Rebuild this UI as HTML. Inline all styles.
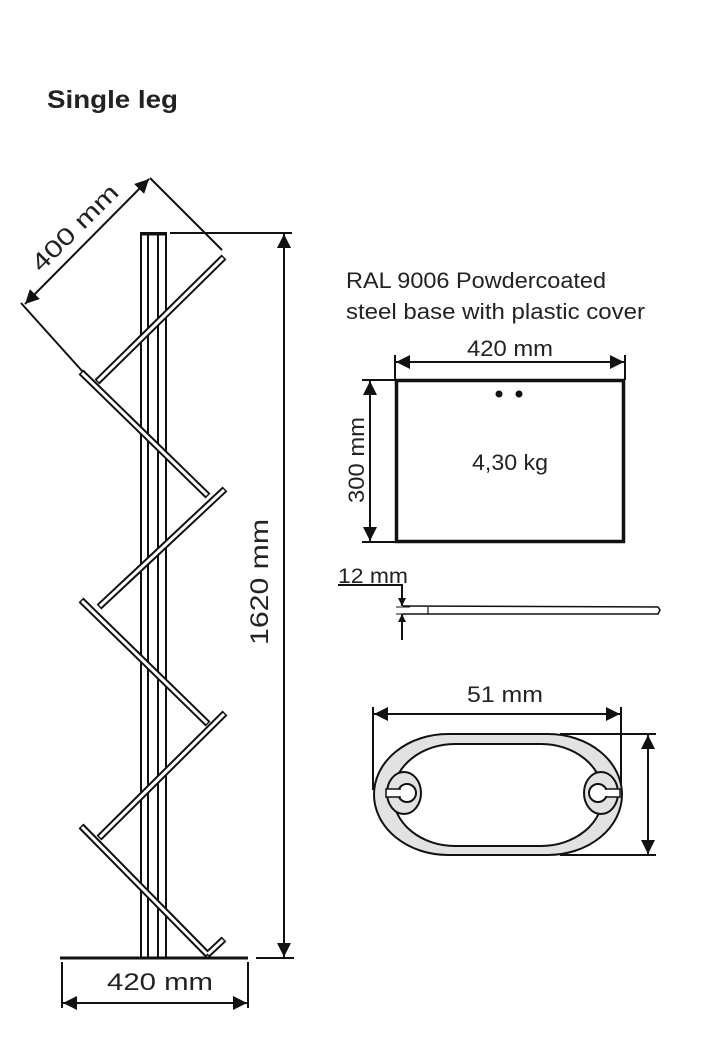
<!DOCTYPE html>
<html><head><meta charset="utf-8"><style>
html,body{margin:0;padding:0;background:#fff;}
svg{display:block;}
text{font-family:"Liberation Sans",sans-serif;fill:#222;}
</style></head><body>
<svg width="708" height="1044" viewBox="0 0 708 1044" xmlns="http://www.w3.org/2000/svg">
<defs>
<marker id="a" viewBox="0 0 10 10" refX="10" refY="5" markerWidth="8" markerHeight="8" orient="auto-start-reverse" markerUnits="userSpaceOnUse"><path d="M0,0 L10,5 L0,10 z" fill="#111"/></marker>
<marker id="b" viewBox="0 0 10 10" refX="10" refY="5" markerWidth="18" markerHeight="14" orient="auto-start-reverse" markerUnits="userSpaceOnUse"><path d="M0,0 L10,5 L0,10 z" fill="#111"/></marker>
</defs>
<text x="47" y="108" font-size="25" font-weight="bold" textLength="131" lengthAdjust="spacingAndGlyphs">Single leg</text>

<!-- pole -->
<g stroke="#111" stroke-width="2" fill="none">
<rect x="141" y="233" width="25" height="725" fill="#fff"/>
<line x1="148" y1="233" x2="148" y2="958"/>
<line x1="158" y1="233" x2="158" y2="958"/>
<line x1="141" y1="234" x2="166" y2="234" stroke-width="3"/>
</g>
<!-- shelves -->
<g stroke-linecap="butt">
<g stroke="#111" stroke-width="7">
<line x1="97" y1="382" x2="224" y2="257"/>
<line x1="81" y1="372" x2="208" y2="496"/>
<line x1="99" y1="607" x2="225" y2="489"/>
<line x1="81" y1="600" x2="208" y2="724"/>
<line x1="99" y1="838" x2="225" y2="713"/>
<line x1="81" y1="826" x2="208" y2="955"/>
<line x1="207" y1="955" x2="224" y2="939"/>
</g>
<g stroke="#fff" stroke-width="3">
<line x1="98" y1="381" x2="223" y2="258"/>
<line x1="82" y1="373" x2="207" y2="495"/>
<line x1="100" y1="606" x2="224" y2="490"/>
<line x1="82" y1="601" x2="207" y2="723"/>
<line x1="100" y1="837" x2="224" y2="714"/>
<line x1="82" y1="827" x2="207" y2="954"/>
<line x1="208" y1="954" x2="223" y2="940"/>
</g>
</g>
<!-- base -->
<line x1="60" y1="958" x2="248" y2="958" stroke="#111" stroke-width="3"/>

<!-- 400 mm -->
<g stroke="#111" stroke-width="2" fill="none">
<line x1="150" y1="178" x2="222" y2="250"/>
<line x1="21" y1="303" x2="83" y2="372"/>
<line x1="25" y1="304" x2="149" y2="179" marker-start="url(#b)" marker-end="url(#b)"/>
</g>
<text x="0" y="0" font-size="24" textLength="112" lengthAdjust="spacingAndGlyphs" transform="translate(41,273) rotate(-45)">400 mm</text>

<!-- 1620 -->
<g stroke="#111" stroke-width="2" fill="none">
<line x1="170" y1="233" x2="292" y2="233"/>
<line x1="256" y1="958" x2="294" y2="958"/>
<line x1="284" y1="234" x2="284" y2="957" marker-start="url(#b)" marker-end="url(#b)"/>
</g>
<text font-size="25" text-anchor="middle" textLength="126" lengthAdjust="spacingAndGlyphs" transform="translate(268,582) rotate(-90)">1620 mm</text>

<!-- 420 bottom -->
<g stroke="#111" stroke-width="2" fill="none">
<line x1="62" y1="962" x2="62" y2="1008"/>
<line x1="248" y1="962" x2="248" y2="1008"/>
<line x1="63" y1="1003" x2="247" y2="1003" marker-start="url(#b)" marker-end="url(#b)"/>
</g>
<text x="160" y="990" font-size="24" text-anchor="middle" textLength="106" lengthAdjust="spacingAndGlyphs">420 mm</text>

<!-- right text -->
<text x="346" y="288" font-size="22" textLength="260" lengthAdjust="spacingAndGlyphs">RAL 9006 Powdercoated</text>
<text x="346" y="319" font-size="22" textLength="299" lengthAdjust="spacingAndGlyphs">steel base with plastic cover</text>

<!-- plate top view -->
<g stroke="#111" stroke-width="2" fill="none">
<line x1="395" y1="355" x2="395" y2="380"/>
<line x1="625" y1="355" x2="625" y2="380"/>
<line x1="396" y1="362" x2="624" y2="362" marker-start="url(#b)" marker-end="url(#b)"/>
<line x1="362" y1="380" x2="396" y2="380"/>
<line x1="362" y1="542" x2="396" y2="542"/>
<line x1="370" y1="381" x2="370" y2="541" marker-start="url(#b)" marker-end="url(#b)"/>
<rect x="396.5" y="380.5" width="227" height="161" stroke-width="3.5"/>
</g>
<circle cx="499" cy="394" r="3.5" fill="#111"/>
<circle cx="519" cy="394" r="3.5" fill="#111"/>
<text x="510" y="356" font-size="22" text-anchor="middle" textLength="86" lengthAdjust="spacingAndGlyphs">420 mm</text>
<text x="510" y="470" font-size="22" text-anchor="middle" textLength="76" lengthAdjust="spacingAndGlyphs">4,30 kg</text>
<text font-size="22" text-anchor="middle" textLength="86" lengthAdjust="spacingAndGlyphs" transform="translate(364,460) rotate(-90)">300 mm</text>

<!-- 12 mm -->
<text x="338" y="583" font-size="21" textLength="70" lengthAdjust="spacingAndGlyphs">12 mm</text>
<g stroke="#111" stroke-width="2" fill="none">
<polyline points="338,585 402,585 402,605"/>
<line x1="402" y1="640" x2="402" y2="614" marker-end="url(#a)"/>
<line x1="402" y1="590" x2="402" y2="606" marker-end="url(#a)"/>
<line x1="396" y1="607" x2="410" y2="607" stroke-width="1"/>
<line x1="396" y1="614" x2="410" y2="614" stroke-width="1"/>
<path d="M403,606 L658,607 L660,610 L658,614 L403,614" stroke-width="1.5"/>
<line x1="428" y1="607" x2="428" y2="614" stroke-width="1.2"/>
</g>

<!-- profile -->
<g stroke="#111" stroke-width="2">
<line x1="373" y1="707" x2="373" y2="790" fill="none"/>
<line x1="621" y1="707" x2="621" y2="790" fill="none"/>
<line x1="374" y1="714" x2="620" y2="714" marker-start="url(#b)" marker-end="url(#b)"/>
<line x1="560" y1="734" x2="656" y2="734"/>
<line x1="560" y1="855" x2="656" y2="855"/>
<line x1="648" y1="735" x2="648" y2="854" marker-start="url(#b)" marker-end="url(#b)"/>
<rect x="374" y="734" width="248" height="121" rx="74" ry="60.5" fill="#e2e2e2"/>
<rect x="393" y="744" width="210" height="102" rx="62" ry="51" fill="#fff"/>
<ellipse cx="404" cy="793" rx="17" ry="21" fill="#e2e2e2"/>
<ellipse cx="601" cy="793" rx="17" ry="21" fill="#e2e2e2"/>
<circle cx="407" cy="793" r="9" fill="#fff"/>
<circle cx="598" cy="793" r="9" fill="#fff"/>
</g>
<rect x="386" y="789" width="14" height="8" fill="#fff" stroke="#111" stroke-width="1.5"/>
<rect x="606" y="789" width="14" height="8" fill="#fff" stroke="#111" stroke-width="1.5"/>
<rect x="395" y="790" width="12" height="6" fill="#fff"/>
<rect x="598" y="790" width="12" height="6" fill="#fff"/>
<text x="505" y="702" font-size="22" text-anchor="middle" textLength="76" lengthAdjust="spacingAndGlyphs">51 mm</text>
</svg>
</body></html>
